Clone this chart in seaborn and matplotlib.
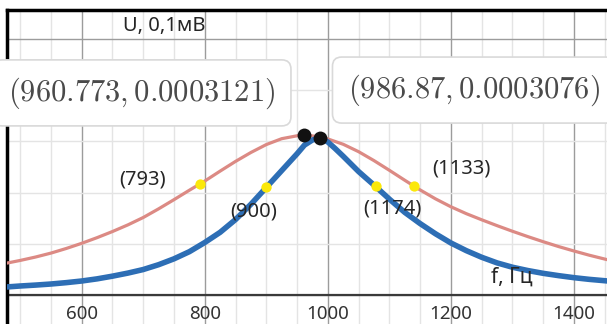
import numpy as np
import pandas as pd
import seaborn as sns
import matplotlib.pyplot as plt
from matplotlib.ticker import MultipleLocator

# red curve (wide resonance), U in volts
freq_red = [478, 500, 525, 550, 575, 600, 625, 650, 675, 700, 725, 750, 775, 800, 825,
            850, 875, 900, 925, 950, 961, 975, 1000, 1025, 1050, 1075, 1100, 1125,
            1150, 1175, 1200, 1225, 1250, 1275, 1300, 1325, 1350, 1375, 1400, 1425, 1455]
u_red = [0.0000615, 0.0000668, 0.0000735, 0.0000812, 0.0000903, 0.0001004, 0.0001115,
         0.0001235, 0.0001365, 0.0001510, 0.0001680, 0.0001860, 0.0002045, 0.0002225,
         0.0002420, 0.0002610, 0.0002785, 0.0002940, 0.0003055, 0.0003112, 0.0003121,
         0.0003110, 0.0003050, 0.0002945, 0.0002800, 0.0002625, 0.0002435, 0.0002240,
         0.0002050, 0.0001875, 0.0001720, 0.0001585, 0.0001465, 0.0001350, 0.0001240,
         0.0001135, 0.0001035, 0.0000940, 0.0000853, 0.0000770, 0.0000680]

# blue curve (narrow resonance)
freq_blue = [478, 500, 525, 550, 575, 600, 625, 650, 675, 700, 725, 750, 775, 800, 825,
             850, 875, 900, 925, 950, 962, 975, 987, 1000, 1012, 1025, 1050, 1075, 1100,
             1125, 1150, 1175, 1200, 1225, 1250, 1275, 1300, 1325, 1350, 1375, 1400,
             1425, 1455]
u_blue = [0.0000148, 0.0000167, 0.0000185, 0.0000206, 0.0000233, 0.0000265, 0.0000307,
          0.0000360, 0.0000420, 0.0000490, 0.0000585, 0.0000700, 0.0000840, 0.0001020,
          0.0001220, 0.0001470, 0.0001770, 0.0002100, 0.0002430, 0.0002760, 0.0002930,
          0.0003030, 0.0003076, 0.0002990, 0.0002860, 0.0002710, 0.0002410, 0.0002145,
          0.0001870, 0.0001610, 0.0001390, 0.0001190, 0.0001010, 0.0000860, 0.0000730,
          0.0000620, 0.0000535, 0.0000470, 0.0000415, 0.0000370, 0.0000330, 0.0000297,
          0.0000265]

# half-power points and their labels
half_f = [793, 1140, 900, 1078]
half_u = [0.000217, 0.0002125, 0.000210, 0.000212]
half_labels = ['(793)', '(1133)', '(900)', '(1174)']
label_offsets = [(-42, 3), (34, 13), (-9, -17), (12, -16)]

# peaks
peak_f = [960.773, 986.87]
peak_u = [0.0003121, 0.0003076]
peak_labels = [r'$(960.773, 0.0003121)$', r'$(986.87, 0.0003076)$']
peak_label_pos = [(0.225, 0.736), (0.778, 0.745)]

x_ticks = [600, 800, 1000, 1200, 1400]

red_df = pd.DataFrame({'f': freq_red, 'U': u_red})
blue_df = pd.DataFrame({'f': freq_blue, 'U': u_blue})
half_df = pd.DataFrame({'f': half_f, 'U': half_u})
peak_df = pd.DataFrame({'f': peak_f, 'U': peak_u})

sns.set_theme(style='white')
plt.rcParams['font.family'] = ['Noto Sans', 'DejaVu Sans']
plt.rcParams['mathtext.fontset'] = 'cm'

fig = plt.figure(figsize=(6.07, 3.24), dpi=100)
ax = fig.add_axes([7 / 607, 0, 600 / 607, 314 / 324])

sns.lineplot(data=red_df, x='f', y='U', color='#dc8a84', linewidth=2.3, ax=ax, zorder=3)
sns.lineplot(data=blue_df, x='f', y='U', color='#2d6eb5', linewidth=4.0, ax=ax, zorder=4)
sns.scatterplot(data=half_df, x='f', y='U', color='#fbe80a', s=55, linewidth=0, ax=ax, zorder=5)
sns.scatterplot(data=peak_df, x='f', y='U', color='#111111', s=100, linewidth=0, ax=ax, zorder=6)

ax.set_xlim(478.6, 1453.6)
ax.set_ylim(-0.0000578, 0.0005578)

ax.set_xticks(x_ticks)
ax.xaxis.set_minor_locator(MultipleLocator(50))
ax.set_yticks([0, 0.0005])
ax.yaxis.set_minor_locator(MultipleLocator(0.0001))
ax.grid(which='minor', color='#e4e4e4', linewidth=1.0, zorder=0)
ax.grid(which='major', color='#9c9c9c', linewidth=1.0, zorder=0)
ax.set_axisbelow(True)
ax.axhline(0, color='#3a3a3a', linewidth=1.6, zorder=2)

ax.tick_params(axis='x', which='both', length=0, pad=-14, labelsize=13.5, labelcolor='#333333')
ax.tick_params(axis='y', which='both', length=0, labelleft=False)
ax.set_xlabel('')
ax.set_ylabel('')

for side in ['bottom', 'right']:
    ax.spines[side].set_visible(False)
for side in ['top', 'left']:
    ax.spines[side].set_color('black')
    ax.spines[side].set_linewidth(2.5)

for f, u, lab, off in zip(half_f, half_u, half_labels, label_offsets):
    ax.annotate(lab, (f, u), xytext=off, textcoords='offset points',
                ha='center', va='center', fontsize=14.5, color='#262626', zorder=7)

for (px, py), lab in zip(peak_label_pos, peak_labels):
    ax.text(px, py, lab, transform=ax.transAxes, ha='center', va='center',
            fontsize=22, color='#4a4a4a', zorder=8,
            bbox=dict(boxstyle='round,pad=0.5,rounding_size=0.3',
                      fc='white', ec='#d9d9d9', lw=1.2))

ax.text(0.262, 0.949, 'U, 0,1мВ', transform=ax.transAxes, ha='center', va='center',
        fontsize=14.5, color='#262626', zorder=7)
ax.text(0.842, 0.150, 'f, Гц', transform=ax.transAxes, ha='center', va='center',
        fontsize=15, color='#262626', zorder=7)

fig.savefig('out.png', dpi=100)
